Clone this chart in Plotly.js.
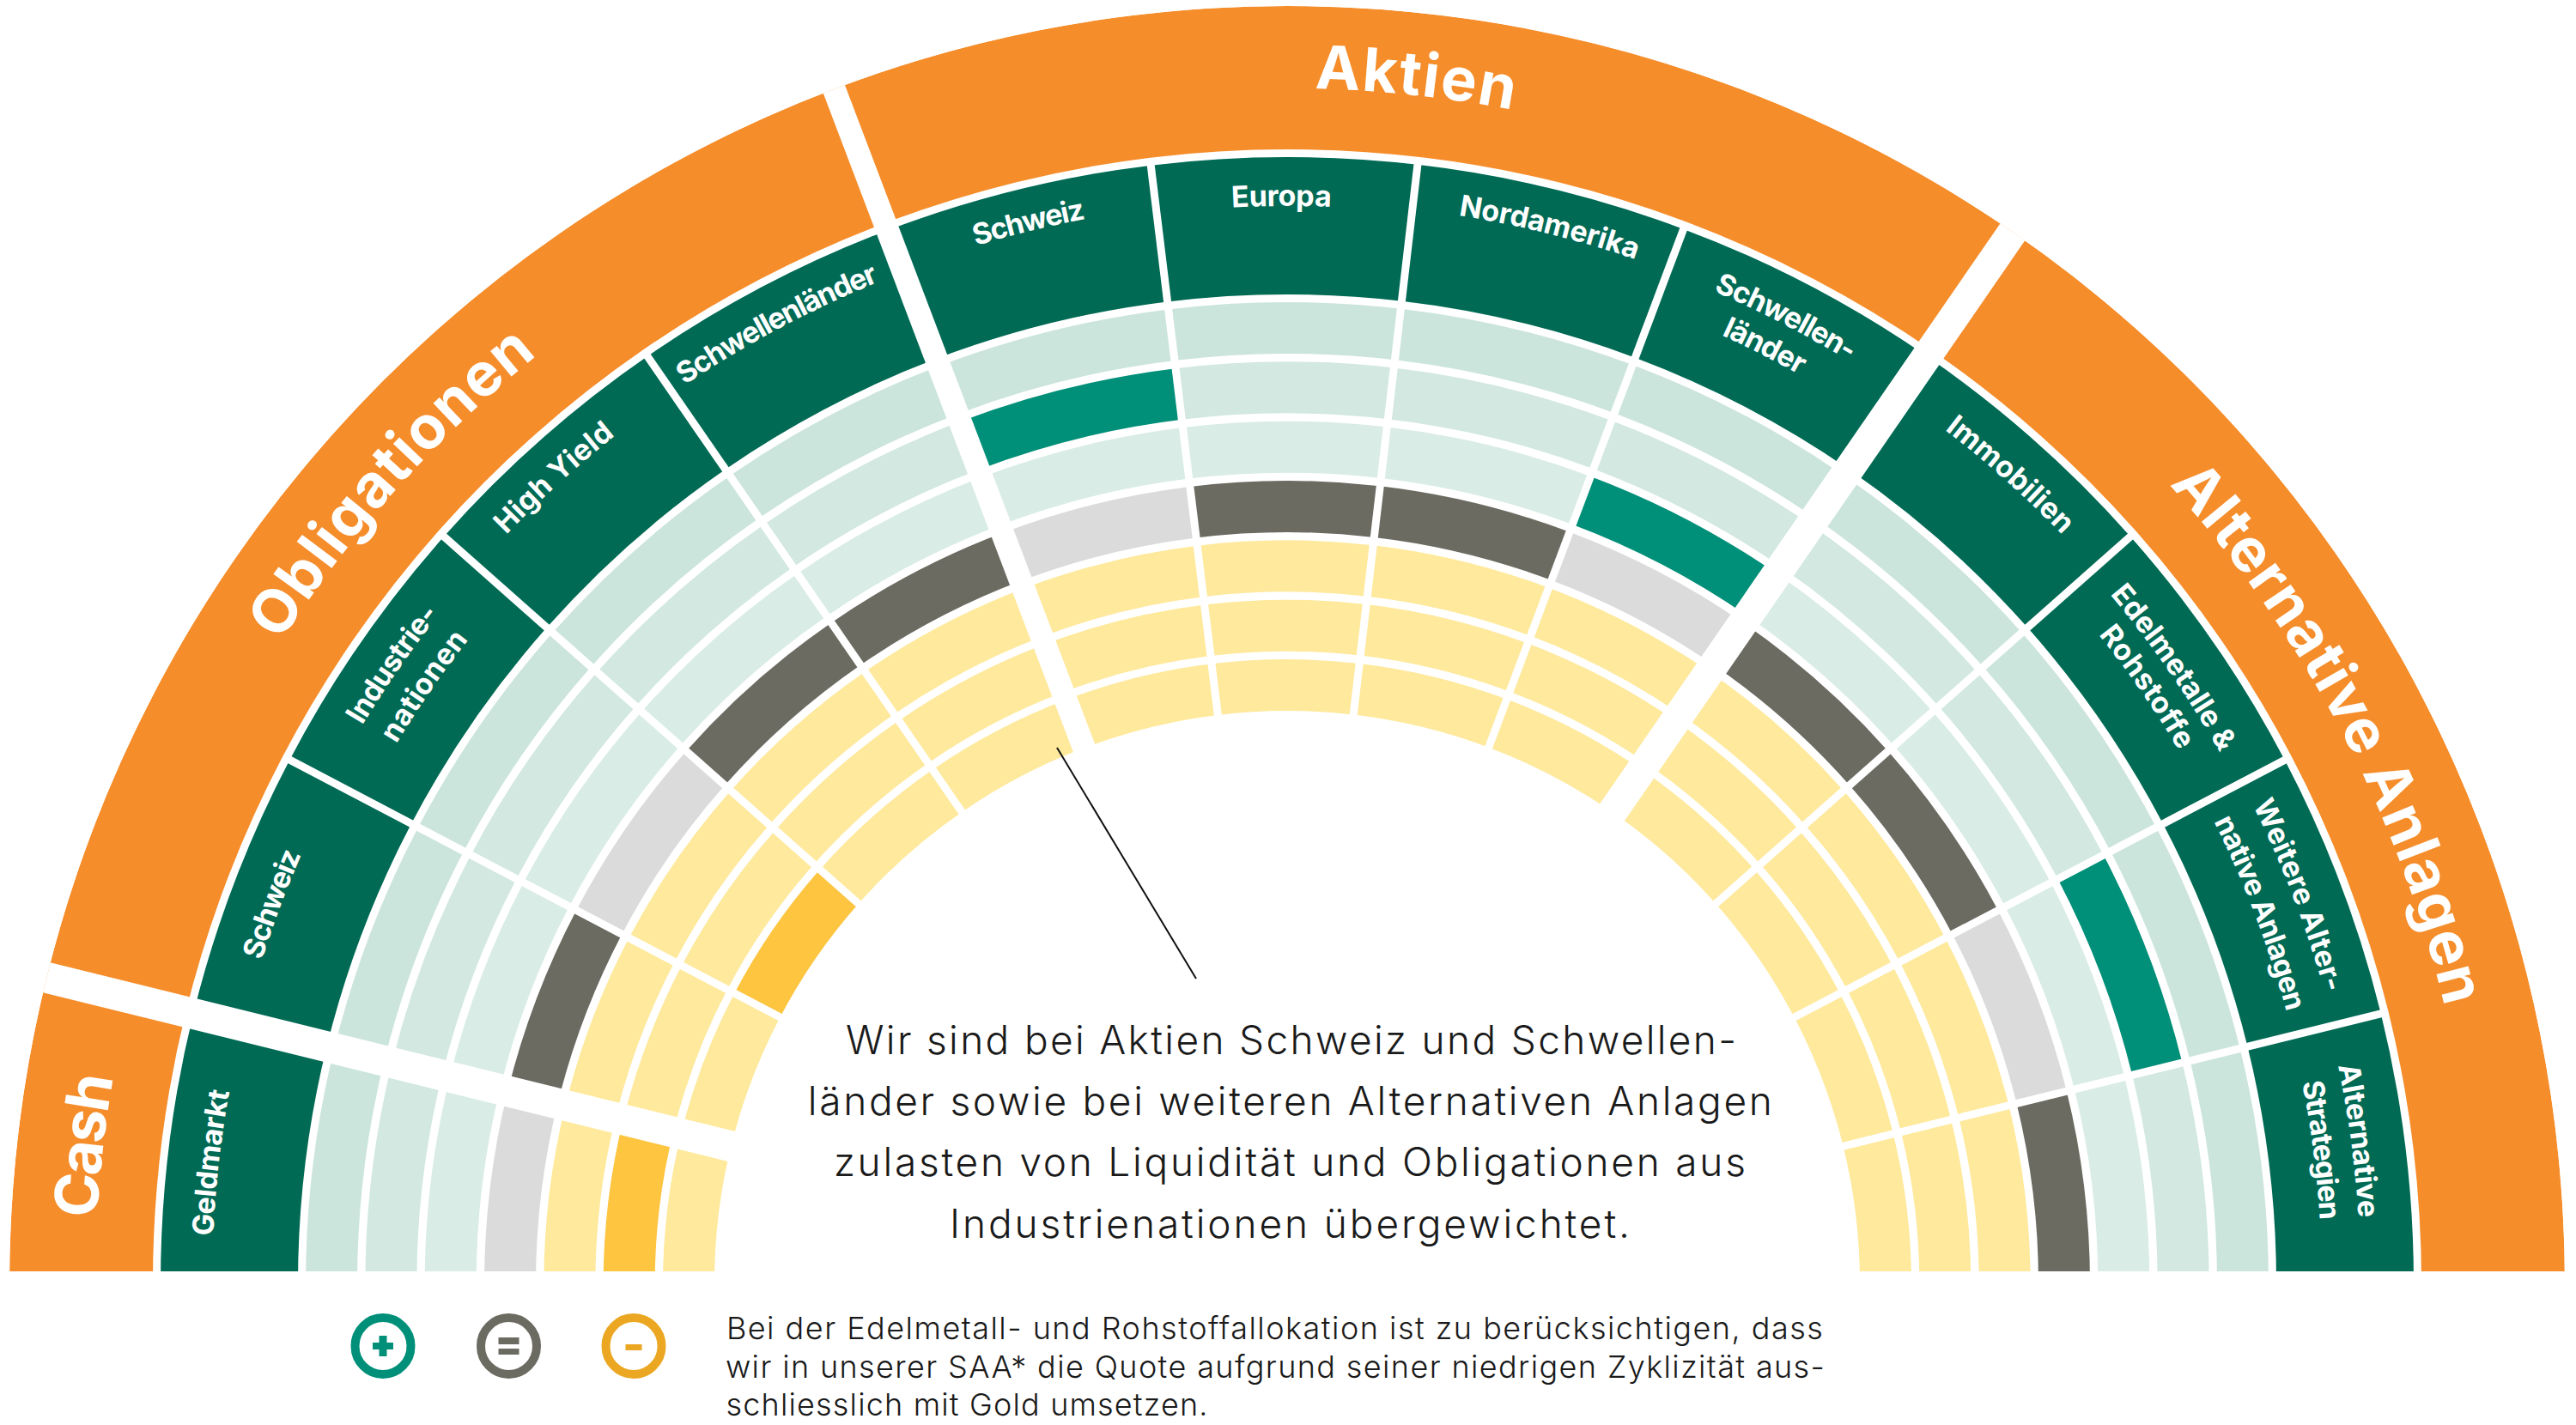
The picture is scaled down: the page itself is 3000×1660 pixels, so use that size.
<!DOCTYPE html>
<html lang="de">
<head>
<meta charset="utf-8">
<script src="https://cdn.plot.ly/plotly-3.0.1.min.js"></script>
<style>html,body{margin:0;padding:0;background:#fff}#chart{width:3000px;height:1660px}</style>
</head>
<body>
<div id="chart"></div>
<script>
// ---------- DATA ----------
const groups = ['Cash', 'Obligationen', 'Aktien', 'Alternative Anlagen'];
const groupSizes = [1, 4, 4, 4];
const categories = ['Geldmarkt', 'Schweiz', 'Industrienationen', 'High Yield', 'Schwellenländer',
  'Schweiz', 'Europa', 'Nordamerika', 'Schwellenländer',
  'Immobilien', 'Edelmetalle & Rohstoffe', 'Weitere Alternative Anlagen', 'Alternative Strategien'];
// tactical position of every category on the seven-step scale (+3 overweight ... -3 underweight)
const positions = [-2, 0, -3, 0, 0, 2, 0, 0, 1, 0, 0, 2, 0];
const levels = [3, 2, 1, 0, -1, -2, -3];
const calloutLines = ['Wir sind bei Aktien Schweiz und Schwellen-',
  'länder sowie bei weiteren Alternativen Anlagen',
  'zulasten von Liquidität und Obligationen aus',
  'Industrienationen übergewichtet.'];
const noteLines = ['Bei der Edelmetall- und Rohstoffallokation ist zu berücksichtigen, dass',
  'wir in unserer SAA* die Quote aufgrund seiner niedrigen Zyklizität aus-',
  'schliesslich mit Gold umsetzen.'];

// ---------- GEOMETRY / STYLE ----------
const W = 3000, H = 1660, CX = 1499, CY = 1495, CUT_Y = 1481;
const R_OUT = 1488, R_GROUP = 1321, R_HEAD_OUT = 1312, R_HEAD_IN = 1152;
const R_INNER = 667, RING_T = 60, RING_P = 69.33;
const C = {orange:'#F58D2B', head:'#006A55', teal:'#008F78', grayD:'#6C6B62', grayL:'#DBDBDB',
  yel:'#FEE99C', gold:'#FDC540', goldIcon:'#EBA722', txt:'#1a1a1a'};
const baseColors = ['#CCE5DC', '#D2E8E1', '#D9ECE6', C.grayL, C.yel, C.yel, C.yel];
const hiColors = [C.teal, C.teal, C.teal, C.grayD, C.gold, C.gold, C.gold];
const n = categories.length;
// slice edges in degrees, left to right
const edges = [180, 166.15, 152.3, 138.46, 124.6, 110.77, 96.95, 83.35, 69.4, 55.4, 41.54, 27.69, 13.85, 0];
const midTheta = i => (edges[i] + edges[i + 1]) / 2;
const spanTheta = i => edges[i] - edges[i + 1];
const px = x => x / W, py = y => 1 - y / H;

// curved label placement: [text, theta centre, baseline radius, arc length, size, weight]
const T1 = 70, T2 = 34;
const curved = [
  [groups[0], 173.45, 1388, 166, T1, 700],
  [groups[1], 138.2, 1390, 451, T1, 700],
  [groups[2], 83.9, 1392, 232, T1, 700],
  [groups[3], 27.8, 1386, 695, T1, 700],
  ['Geldmarkt', 173.6, 1252, 170, T2, 700],
  ['Schweiz', 159.5, 1252, 132, T2, 700],
  ['Industrie-', 145.3, 1258, 158, T2, 700],
  ['nationen', 145.3, 1213, 148, T2, 700],
  ['High Yield', 132.3, 1260, 172, T2, 700],
  ['Schwellenländer', 118, 1260, 257, T2, 700],
  ['Schweiz', 103.7, 1262, 132, T2, 700],
  ['Europa', 90.3, 1255, 116, T2, 700],
  ['Nordamerika', 76.05, 1260, 213, T2, 700],
  ['Schwellen-', 62.7, 1258, 178, T2, 700],
  ['länder', 63, 1215, 102, T2, 700],
  ['Immobilien', 48.2, 1255, 184, T2, 700],
  ['Edelmetalle &', 34.8, 1250, 225, T2, 700],
  ['Rohstoffe', 34.75, 1210, 165, T2, 700],
  ['Weitere Alter-', 21, 1255, 235, T2, 700],
  ['native Anlagen', 20.85, 1206, 238, T2, 700],
  ['Alternative', 7.6, 1250, 179, T2, 700],
  ['Strategien', 7.35, 1205, 162, T2, 700]
];
// straight lines: [text, centre x, centre y, length, size]
const straight = [
  [calloutLines[0], 1503.5, 1211, 1037, 46],
  [calloutLines[1], 1502.5, 1282, 1123, 46],
  [calloutLines[2], 1502, 1353, 1062, 46],
  [calloutLines[3], 1502, 1425, 792, 46],
  [noteLines[0], 1484, 1547, 1277, 36],
  [noteLines[1], 1485, 1592, 1280, 36],
  [noteLines[2], 1126, 1636, 561, 36]
];

// ---------- TRACES ----------
const allCats = categories.map((_, i) => i);
const traces = [];
levels.forEach((lv, ring) => {
  traces.push({
    type: 'barpolar', hoverinfo: 'skip', name: 'Stufe ' + lv,
    theta: allCats.map(midTheta),
    width: allCats.map(spanTheta),
    base: allCats.map(() => R_INNER + (6 - ring) * RING_P),
    r: allCats.map(() => RING_T),
    marker: {color: positions.map(p => p === lv ? hiColors[ring] : baseColors[ring]), line: {width: 0}}
  });
});
traces.push({
  type: 'barpolar', hoverinfo: 'skip', name: 'Kategorien',
  theta: allCats.map(midTheta), width: allCats.map(spanTheta),
  base: allCats.map(() => R_HEAD_IN), r: allCats.map(() => R_HEAD_OUT - R_HEAD_IN),
  marker: {color: C.head, line: {width: 0}}
});
let acc = 0;
const groupTheta = [], groupWidth = [], groupEdges = [];
groupSizes.forEach(s => {
  const a = edges[acc], b = edges[acc + s];
  groupTheta.push((a + b) / 2);
  groupWidth.push(a - b);
  acc += s;
  if (acc < n) groupEdges.push(b);
});
traces.push({
  type: 'barpolar', hoverinfo: 'skip', name: 'Anlageklassen',
  theta: groupTheta, width: groupWidth,
  base: groups.map(() => R_GROUP), r: groups.map(() => R_OUT - R_GROUP),
  marker: {color: C.orange, line: {width: 0}}
});
// white separators between categories and asset classes
for (let i = 1; i < n; i++) {
  const t = edges[i];
  traces.push({type: 'scatterpolar', mode: 'lines', hoverinfo: 'skip', showlegend: false,
    r: [655, 1316], theta: [t, t], line: {color: '#fff', width: 9}});
}
const edgeWidths = [36, 27, 35];
groupEdges.forEach((t, i) => traces.push({type: 'scatterpolar', mode: 'lines', hoverinfo: 'skip', showlegend: false,
  r: [655, R_OUT], theta: [t, t], line: {color: '#fff', width: edgeWidths[i]}}));

// ---------- SHAPES ----------
const rect = (x0, y0, x1, y1, col) => ({type: 'rect', xref: 'paper', yref: 'paper', layer: 'above',
  x0: px(x0), x1: px(x1), y0: py(y0), y1: py(y1), fillcolor: col, line: {width: 0}});
const ring = (x, y, col) => ({type: 'circle', xref: 'paper', yref: 'paper', layer: 'above',
  x0: px(x - 32.5), x1: px(x + 32.5), y0: py(y - 33), y1: py(y + 33), fillcolor: '#fff', line: {color: col, width: 10}});
const ICON_Y = 1568;
const shapes = [
  rect(0, CUT_Y, W, H, '#fff'),
  {type: 'line', xref: 'paper', yref: 'paper', layer: 'above', x0: px(1231), y0: py(871), x1: px(1393), y1: py(1140), line: {color: '#111', width: 2}},
  ring(446, ICON_Y, C.teal), rect(434, ICON_Y - 4, 458, ICON_Y + 4, C.teal), rect(441.5, ICON_Y - 12, 450.5, ICON_Y + 12, C.teal),
  ring(592.5, ICON_Y, C.grayD), rect(580.5, ICON_Y - 10, 604.5, ICON_Y - 2, C.grayD), rect(580.5, ICON_Y + 3, 604.5, ICON_Y + 10, C.grayD),
  ring(738, ICON_Y, C.goldIcon), rect(728.5, ICON_Y - 2, 747.5, ICON_Y + 5, C.goldIcon)
];

// ---------- TEXT ----------
const rad = d => d * Math.PI / 180;
const annotations = [];
curved.forEach(([text, th, r, len, size, weight]) => {
  annotations.push({xref: 'paper', yref: 'paper', xanchor: 'center', yanchor: 'middle', showarrow: false, text,
    x: px(CX + (r + size * 0.36) * Math.cos(rad(th))), y: py(CY - (r + size * 0.36) * Math.sin(rad(th))),
    textangle: 90 - th, font: {family: 'Inter, sans-serif', size, weight, color: '#fff'}});
});
straight.forEach(([text, x, y, len, size]) => {
  annotations.push({xref: 'paper', yref: 'paper', xanchor: 'center', yanchor: 'middle', showarrow: false, text,
    x: px(x), y: py(y), font: {family: 'Inter, sans-serif', size, weight: 300, color: C.txt}});
});

const layout = {
  width: W, height: H, autosize: false, showlegend: false,
  margin: {l: 0, r: 0, t: 0, b: 0, pad: 0}, paper_bgcolor: '#fff',
  polar: {
    domain: {x: [px(CX - R_OUT), px(CX + R_OUT)], y: [py(CY), py(CY - R_OUT)]},
    sector: [0, 180], bgcolor: 'rgba(0,0,0,0)', barmode: 'overlay', bargap: 0,
    radialaxis: {visible: false, range: [0, R_OUT]},
    angularaxis: {visible: false, direction: 'counterclockwise', rotation: 0, thetaunit: 'degrees'}
  },
  shapes, annotations
};

Plotly.newPlot('chart', traces, layout, {staticPlot: true, displayModeBar: false}).then(gd => {
  // bend the outer labels along their rings and fit every line to its measured length
  const NS = 'http://www.w3.org/2000/svg';
  const defs = document.createElementNS(NS, 'defs');
  gd.querySelectorAll('g.annotation').forEach(g => {
    const idx = +g.getAttribute('data-index');
    const t = g.querySelector('text.annotation-text');
    if (!t) return;
    if (idx < curved.length) {
      const [text, th, r, len] = curved[idx];
      const id = 'arc' + idx;
      const a0 = rad(th + 80), a1 = rad(th - 80);
      const p = document.createElementNS(NS, 'path');
      p.setAttribute('id', id);
      p.setAttribute('d', `M ${CX + r * Math.cos(a0)} ${CY - r * Math.sin(a0)} A ${r} ${r} 0 0 1 ${CX + r * Math.cos(a1)} ${CY - r * Math.sin(a1)}`);
      defs.appendChild(p);
      g.querySelectorAll('g').forEach(x => { x.removeAttribute('transform'); x.removeAttribute('clip-path'); });
      t.removeAttribute('transform');
      t.removeAttribute('clip-path');
      t.setAttribute('x', 0); t.setAttribute('y', 0);
      t.setAttribute('text-anchor', 'middle');
      t.textContent = '';
      const tp = document.createElementNS(NS, 'textPath');
      tp.setAttribute('href', '#' + id);
      tp.setAttribute('startOffset', '50%');
      tp.setAttribute('textLength', len);
      tp.setAttribute('lengthAdjust', 'spacing');
      tp.textContent = text;
      t.appendChild(tp);
    } else {
      t.setAttribute('textLength', straight[idx - curved.length][3]);
      t.setAttribute('lengthAdjust', 'spacing');
    }
  });
  gd.querySelector('svg').appendChild(defs);
});
</script>
</body>
</html>
